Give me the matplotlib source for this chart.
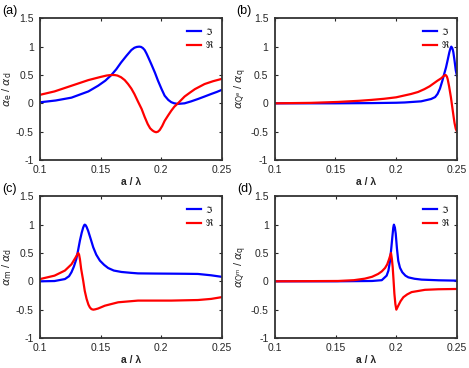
import matplotlib
matplotlib.use('Agg')
import matplotlib.pyplot as plt
import numpy as np

plt.rcParams['font.family'] = ['Liberation Sans', 'DejaVu Sans']
plt.rcParams['font.size'] = 7.5
plt.rcParams['mathtext.fontset'] = 'dejavusans'

################################################################################
# data  (x = a/lambda)

# (a) alpha_e / alpha_d
a_im_x = [0.100, 0.113, 0.126, 0.140, 0.148, 0.154, 0.159, 0.163, 0.167, 0.1715, 0.1755, 0.178, 0.180,
          0.182, 0.1835, 0.1850, 0.1865, 0.1880, 0.1895, 0.192, 0.195, 0.1975, 0.2005, 0.203, 0.206,
          0.2085, 0.211, 0.214, 0.2195, 0.225, 0.2305, 0.236, 0.2415, 0.246, 0.250]
a_im_y = [0.018, 0.05, 0.10, 0.21, 0.31, 0.40, 0.50, 0.60, 0.72, 0.84, 0.94, 0.98, 0.995,
          1.00, 0.995, 0.975, 0.94, 0.88, 0.81, 0.69, 0.54, 0.40, 0.25, 0.135, 0.06,
          0.02, 0.0, -0.01, 0.0, 0.035, 0.076, 0.12, 0.165, 0.20, 0.235]
a_re_x = [0.100, 0.112, 0.126, 0.140, 0.150, 0.155, 0.158, 0.160, 0.162, 0.164, 0.167, 0.170, 0.1728,
          0.1755, 0.178, 0.181, 0.184, 0.1865, 0.189, 0.191, 0.193, 0.1945, 0.196, 0.1975, 0.199,
          0.201, 0.203, 0.206, 0.2085, 0.211, 0.214, 0.2195, 0.224, 0.228, 0.236, 0.243, 0.250]
a_re_y = [0.15, 0.21, 0.31, 0.41, 0.465, 0.49, 0.498, 0.50, 0.498, 0.49, 0.46, 0.41, 0.34,
          0.26, 0.165, 0.03, -0.10, -0.24, -0.365, -0.44, -0.48, -0.50, -0.51, -0.50, -0.47,
          -0.40, -0.31, -0.21, -0.13, -0.06, 0.0, 0.12, 0.19, 0.25, 0.34, 0.39, 0.43]

# (b) alpha_Qe / alpha_q
b_im_x = [0.100, 0.150, 0.180, 0.200, 0.207, 0.2205, 0.2287, 0.232, 0.234, 0.236, 0.238, 0.2395, 0.241,
          0.2425, 0.2437, 0.2446, 0.2453, 0.2460, 0.2466, 0.247, 0.248, 0.249, 0.250]
b_im_y = [0.0, 0.0, 0.004, 0.01, 0.015, 0.035, 0.076, 0.11, 0.165, 0.26, 0.40, 0.52, 0.635,
          0.78, 0.90, 0.97, 1.00, 0.98, 0.94, 0.90, 0.75, 0.58, 0.48]
b_re_x = [0.100, 0.130, 0.152, 0.170, 0.1795, 0.190, 0.200, 0.2123, 0.218, 0.2232, 0.2275, 0.2314, 0.234,
          0.2369, 0.2385, 0.2395, 0.2402, 0.2410, 0.2417, 0.2423, 0.2435, 0.245, 0.246, 0.2473, 0.248,
          0.249, 0.250]
b_re_y = [0.0, 0.008, 0.024, 0.045, 0.06, 0.08, 0.106, 0.165, 0.20, 0.25, 0.30, 0.36, 0.40,
          0.44, 0.47, 0.49, 0.50, 0.495, 0.47, 0.43, 0.30, 0.106, -0.05, -0.25, -0.35,
          -0.45, -0.50]

# (c) alpha_m / alpha_d
c_im_x = [0.100, 0.112, 0.1206, 0.124, 0.126, 0.128, 0.130, 0.1315, 0.133, 0.1345, 0.1357, 0.1365, 0.137,
          0.1377, 0.1385, 0.1398, 0.142, 0.144, 0.1465, 0.1495, 0.153, 0.1563, 0.161, 0.1673, 0.175,
          0.181, 0.1950, 0.2085, 0.220, 0.2305, 0.2415, 0.250]
c_im_y = [0.0, 0.005, 0.04, 0.09, 0.16, 0.26, 0.39, 0.55, 0.72, 0.86, 0.95, 0.99, 1.00,
          0.99, 0.96, 0.89, 0.74, 0.60, 0.47, 0.365, 0.29, 0.235, 0.19, 0.165, 0.15,
          0.14, 0.137, 0.135, 0.133, 0.13, 0.106, 0.08]
c_re_x = [0.100, 0.112, 0.1206, 0.126, 0.1294, 0.1307, 0.1316, 0.1323, 0.133, 0.134, 0.1357, 0.137,
          0.1385, 0.140, 0.1412, 0.1425, 0.144, 0.1455, 0.148, 0.1536, 0.1646, 0.181, 0.195, 0.2085,
          0.2305, 0.2415, 0.250]
c_re_y = [0.04, 0.10, 0.19, 0.30, 0.42, 0.47, 0.50, 0.47, 0.39, 0.22, 0.01, -0.17,
          -0.31, -0.41, -0.46, -0.49, -0.50, -0.495, -0.48, -0.43, -0.37, -0.34, -0.34, -0.34,
          -0.33, -0.31, -0.28]

# (d) alpha_Qm / alpha_q
d_im_x = [0.100, 0.150, 0.180, 0.188, 0.192, 0.1935, 0.1948, 0.196, 0.1967, 0.1975, 0.198, 0.1988,
          0.1995, 0.2005, 0.2016, 0.203, 0.2049, 0.2075, 0.2099, 0.2150, 0.2209, 0.235, 0.250]
d_im_y = [0.0, 0.0, 0.006, 0.02, 0.10, 0.19, 0.36, 0.62, 0.78, 0.95, 1.00, 0.95,
          0.84, 0.58, 0.36, 0.24, 0.16, 0.10, 0.07, 0.045, 0.03, 0.018, 0.012]
d_re_x = [0.100, 0.152, 0.165, 0.174, 0.180, 0.185, 0.188, 0.1907, 0.1925, 0.194, 0.1956, 0.1963,
          0.197, 0.1977, 0.1984, 0.1992, 0.200, 0.2016, 0.2035, 0.2058, 0.2090, 0.2126, 0.2236,
          0.2346, 0.250]
d_re_y = [0.0, 0.006, 0.02, 0.047, 0.08, 0.13, 0.175, 0.235, 0.30, 0.39, 0.50, 0.40,
          0.25, 0.02, -0.22, -0.40, -0.50, -0.43, -0.35, -0.28, -0.23, -0.19, -0.15,
          -0.14, -0.135]

panels = [
    ('(a)', a_im_x, a_im_y, a_re_x, a_re_y, r'$\alpha_{\mathrm{e}}$ / $\alpha_{\mathrm{d}}$'),
    ('(b)', b_im_x, b_im_y, b_re_x, b_re_y, r'$\alpha_{\mathrm{Q^e}}$ / $\alpha_{\mathrm{q}}$'),
    ('(c)', c_im_x, c_im_y, c_re_x, c_re_y, r'$\alpha_{\mathrm{m}}$ / $\alpha_{\mathrm{d}}$'),
    ('(d)', d_im_x, d_im_y, d_re_x, d_re_y, r'$\alpha_{\mathrm{Q^m}}$ / $\alpha_{\mathrm{q}}$'),
]

xticks = [0.1, 0.15, 0.2, 0.25]
yticks = [-1, -0.5, 0, 0.5, 1, 1.5]
xtick_labels = ['0.1', '0.15', '0.2', '0.25']
ytick_labels = ['-1', '-0.5', '0', '0.5', '1', '1.5']

################################################################################

W, H = 469, 368
fig = plt.figure(figsize=(W / 100, H / 100), dpi=100)

boxes = [(40, 18.3, 221.5, 160), (274.5, 18.3, 457, 160),
         (40, 196.3, 221.5, 338), (275, 196.3, 457, 338)]

for (tag, ix, iy, rx, ry, ylab), (x0, y0, x1, y1) in zip(panels, boxes):
    ax = fig.add_axes([x0 / W, 1 - y1 / H, (x1 - x0) / W, (y1 - y0) / H])
    ax.plot(ix, iy, color='#0000ff', lw=1.6, label=r'$\Im$')
    ax.plot(rx, ry, color='#ff0000', lw=1.6, label=r'$\Re$')
    ax.set_xlim(0.1, 0.25)
    ax.set_ylim(-1, 1.5)
    ax.set_xticks(xticks)
    ax.set_xticklabels(xtick_labels)
    ax.set_yticks(yticks)
    ax.set_yticklabels(ytick_labels)
    ax.tick_params(direction='in', top=True, right=True, length=2.5, width=0.8,
                   colors='#262626', labelsize=7.5)
    ax.tick_params(axis='x', pad=3.5)
    ax.tick_params(axis='y', pad=4.5)
    for sp in ax.spines.values():
        sp.set_color('#333333')
        sp.set_linewidth(1.3)
    ax.set_xlabel('a / λ', fontweight='bold', fontsize=7.5, color='#262626', labelpad=1.5)
    ax.set_ylabel(ylab, fontsize=8, color='#262626', labelpad=1)
    leg = ax.legend(loc='upper right', frameon=False, fontsize=6.5, handlelength=1.6,
                    handletextpad=0.4, labelspacing=0.25, borderaxespad=0.4)
    fig.text((x0 - 38) / W, 1 - (y0 - 7) / H, tag, fontsize=9, va='center', ha='left')

plt.savefig('out.png', dpi=100)
